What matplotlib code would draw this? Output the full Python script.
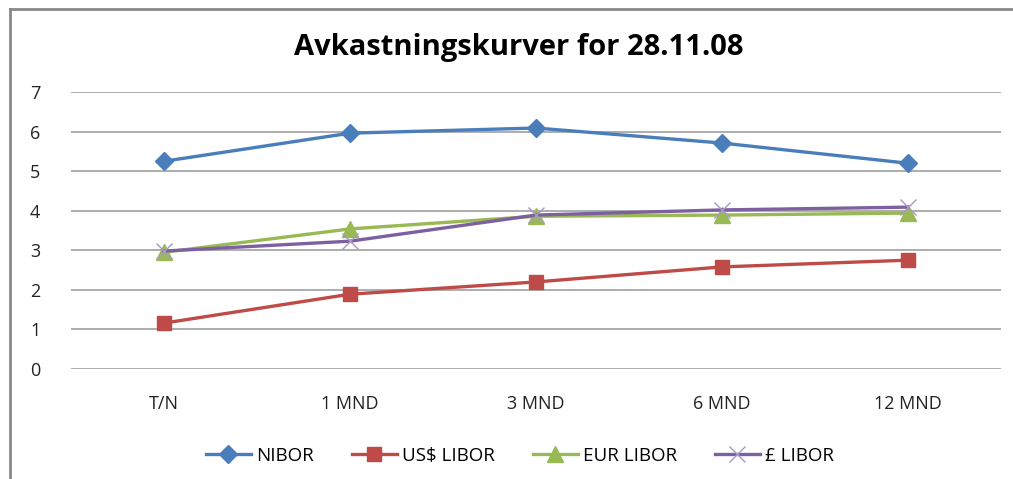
import matplotlib.pyplot as plt
from matplotlib.lines import Line2D

kategorier = ['T/N', '1 MND', '3 MND', '6 MND', '12 MND']
nibor = [5.25, 5.96, 6.09, 5.71, 5.20]
usd_libor = [1.16, 1.89, 2.20, 2.58, 2.75]
eur_libor = [2.95, 3.54, 3.86, 3.89, 3.94]
gbp_libor = [2.98, 3.23, 3.89, 4.02, 4.09]

plt.rcParams['font.family'] = ['Open Sans', 'DejaVu Sans']

fig = plt.figure(figsize=(10.13, 4.79), dpi=100)
ax = fig.add_axes([71 / 1013, 1 - 369 / 479, 930 / 1013, 277 / 479])

x = range(len(kategorier))
ax.plot(x, nibor, color='#4a7ebb', lw=2.4, marker='D', ms=9, label='NIBOR')
ax.plot(x, usd_libor, color='#be4b48', lw=2.4, marker='s', ms=10, label='US$ LIBOR')
ax.plot(x, eur_libor, color='#98b954', lw=2.4, marker='^', ms=11, label='EUR LIBOR')
ax.plot(x, gbp_libor, color='#7d60a0', lw=2.4, marker='x', ms=11, mew=1,
        mec='#a898c8', label='£ LIBOR')

ax.set_xlim(-0.5, len(kategorier) - 0.5)
ax.set_ylim(0, 7)
ax.set_yticks(range(8))
ax.set_xticks(list(x))
ax.set_xticklabels(kategorier)
ax.grid(axis='y', color='#a0a0a0', lw=1.2)
ax.set_axisbelow(True)
for s in ax.spines.values():
    s.set_visible(False)
ax.tick_params(length=0, labelsize=13, colors='#222222')
ax.tick_params(axis='x', pad=19)
ax.tick_params(axis='y', pad=22)

fig.text(519 / 1013, 1 - 47 / 479, 'Avkastningskurver for 28.11.08',
         ha='center', va='center', fontsize=21, fontweight='bold')

fig.legend(loc='center', bbox_to_anchor=(520 / 1013, 1 - 456 / 479), ncol=4,
           frameon=False, fontsize=13.5, handlelength=2.4, columnspacing=2.0,
           handletextpad=0.3)

# ramme rundt diagrammet
fig.add_artist(Line2D([10 / 1013, 10 / 1013], [0, 1 - 9 / 479], color='#888888', lw=2))
fig.add_artist(Line2D([10 / 1013, 1], [1 - 9 / 479, 1 - 9 / 479], color='#888888', lw=2))

fig.savefig('out.png', dpi=100)
